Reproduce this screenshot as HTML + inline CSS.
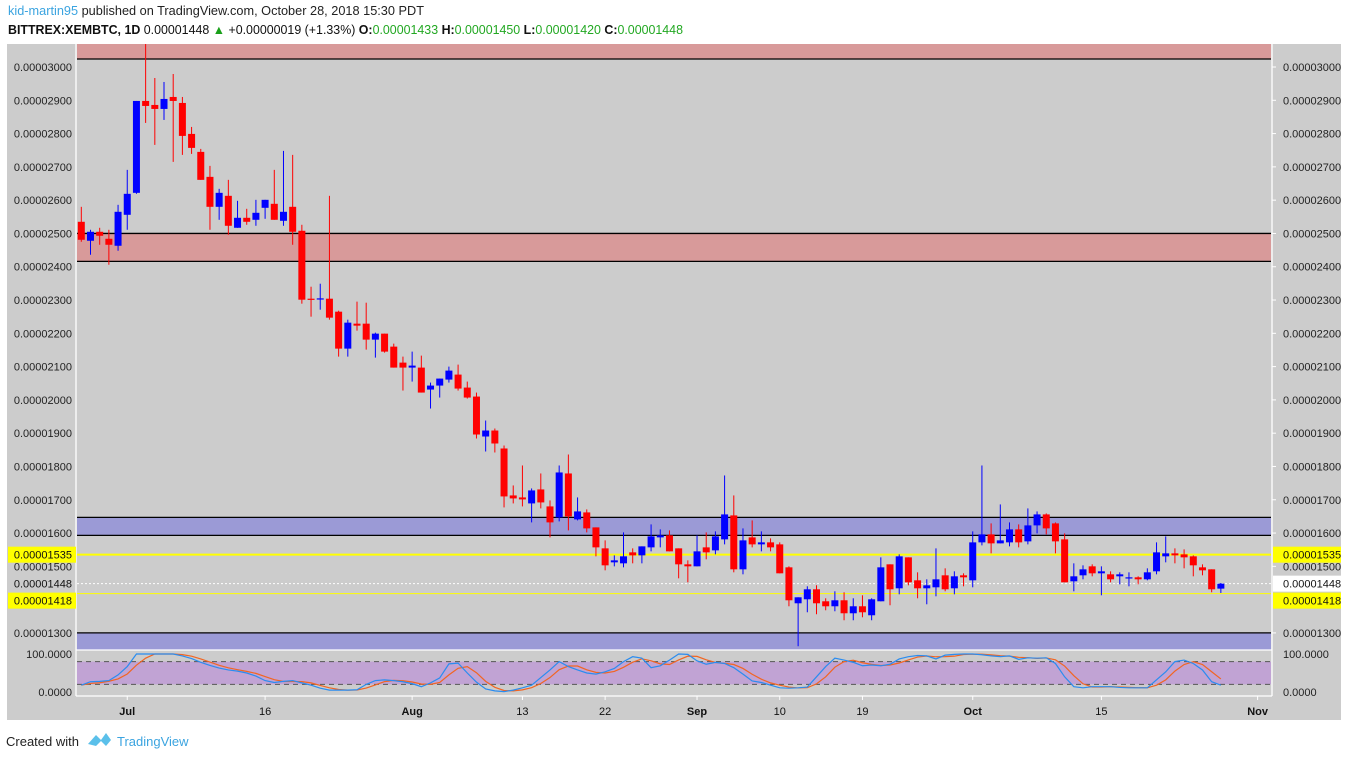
<!DOCTYPE html>
<html><head><meta charset="utf-8"><title>XEMBTC 1D chart</title>
<style>
html,body{margin:0;padding:0;background:#fff;}
svg{display:block;font-family:"Liberation Sans",Arial,sans-serif;}
</style></head>
<body>
<svg id="chart" width="1348" height="758" viewBox="0 0 1348 758" xmlns="http://www.w3.org/2000/svg">
  <text x="8" y="15" font-size="12.5" fill="#222" textLength="416" lengthAdjust="spacingAndGlyphs"><tspan fill="#3ba4e0">kid-martin95</tspan> published on TradingView.com, October 28, 2018 15:30 PDT</text>
  <text x="8" y="34" font-size="12.5" fill="#111" textLength="675" lengthAdjust="spacingAndGlyphs"><tspan font-weight="bold">BITTREX:XEMBTC, 1D</tspan> 0.00001448 <tspan fill="#1aa01a">▲</tspan> +0.00000019 (+1.33%) <tspan font-weight="bold">O:</tspan><tspan fill="#22a822">0.00001433</tspan> <tspan font-weight="bold">H:</tspan><tspan fill="#22a822">0.00001450</tspan> <tspan font-weight="bold">L:</tspan><tspan fill="#22a822">0.00001420</tspan> <tspan font-weight="bold">C:</tspan><tspan fill="#22a822">0.00001448</tspan></text>
  <rect x="7" y="44" width="1334" height="676" fill="#cccccc"/>
  <g id="zones"></g>
  <g id="candles"></g>
  <g id="stoch"></g>
  <g id="axes"></g>
  <text x="6" y="746" font-size="13" fill="#222">Created with</text>
  <g>
    <path d="M88 744 L96 735 L101 740 L106 733 L111 740 L106 746 L101 741 L96 746 Z" fill="#5bc0ea"/>
    <text x="117" y="746" font-size="13" fill="#3ba4e0">TradingView</text>
  </g>
</svg>
<script>
const opens  = [2535,2478,2505,2484,2463,2556,2622,2898,2886,2874,2910,2892,2799,2745,2670,2580,2613,2517,2547,2541,2577,2589,2538,2580,2508,2304,2304,2304,2265,2154,2229,2229,2181,2199,2160,2112,2097,2097,2031,2043,2061,2076,2037,2010,1890,1908,1854,1713,1707,1689,1731,1680,1647,1779,1641,1662,1617,1554,1512,1509,1542,1533,1557,1587,1593,1554,1506,1500,1557,1548,1581,1653,1491,1587,1566,1572,1566,1497,1389,1401,1431,1395,1380,1398,1359,1380,1353,1395,1506,1434,1527,1458,1434,1437,1473,1434,1473,1458,1572,1596,1569,1572,1611,1575,1623,1656,1629,1581,1455,1473,1500,1479,1476,1470,1464,1467,1461,1485,1530,1539,1536,1530,1497,1491,1433];
const highs  = [2580,2511,2517,2511,2586,2691,2898,3069,2967,2955,2979,2910,2820,2754,2703,2634,2661,2598,2574,2601,2601,2691,2748,2736,2526,2340,2349,2613,2268,2241,2295,2292,2202,2199,2169,2130,2145,2133,2052,2064,2100,2106,2055,2022,1938,1914,1863,1743,1803,1734,1779,1698,1803,1836,1707,1671,1617,1578,1533,1602,1554,1560,1626,1611,1608,1554,1518,1593,1602,1605,1773,1713,1614,1638,1605,1584,1572,1500,1407,1440,1443,1404,1425,1422,1404,1413,1404,1527,1506,1536,1527,1482,1461,1554,1494,1485,1479,1605,1803,1629,1686,1632,1626,1674,1665,1659,1632,1599,1509,1503,1506,1500,1485,1482,1482,1470,1494,1572,1590,1554,1551,1533,1506,1491,1450];
const lows   = [2475,2436,2466,2406,2448,2511,2619,2832,2766,2841,2715,2736,2739,2661,2511,2541,2496,2517,2526,2523,2544,2541,2523,2466,2289,2250,2271,2241,2130,2130,2208,2151,2127,2142,2097,2028,2055,2022,1974,2007,2052,2028,2004,1884,1845,1842,1677,1689,1680,1632,1674,1587,1635,1608,1638,1602,1530,1488,1500,1497,1509,1509,1545,1557,1545,1464,1452,1500,1521,1536,1566,1482,1476,1557,1545,1545,1479,1380,1260,1362,1356,1368,1365,1338,1338,1347,1338,1395,1383,1416,1443,1404,1386,1410,1425,1416,1440,1437,1563,1539,1569,1560,1557,1566,1599,1596,1539,1452,1425,1461,1470,1413,1452,1446,1440,1446,1458,1476,1512,1509,1494,1470,1473,1422,1420];
const closes = [2481,2505,2493,2466,2565,2619,2898,2883,2874,2904,2898,2793,2757,2661,2580,2622,2523,2547,2535,2562,2601,2541,2565,2505,2301,2301,2305,2247,2154,2232,2223,2181,2199,2145,2097,2097,2103,2022,2043,2064,2088,2034,2007,1896,1908,1869,1710,1704,1701,1728,1692,1632,1782,1650,1665,1614,1557,1503,1518,1530,1533,1560,1590,1593,1545,1506,1500,1545,1542,1590,1656,1491,1578,1566,1572,1557,1479,1398,1407,1431,1389,1380,1398,1359,1380,1362,1401,1497,1431,1530,1452,1434,1443,1461,1431,1470,1467,1572,1596,1569,1578,1611,1572,1623,1656,1614,1575,1452,1470,1491,1479,1485,1461,1476,1467,1461,1482,1542,1539,1533,1527,1503,1488,1431,1448];
const stochK = [18,27,28,30,45,67,100,100,100,100,100,95,88,78,70,63,58,55,50,42,30,25,28,30,24,18,10,5,5,5,6,20,30,32,30,27,22,14,24,37,74,76,50,26,8,3,1,5,11,18,38,58,80,67,58,50,47,53,62,80,93,89,64,69,84,100,99,82,73,78,75,64,47,29,25,18,11,10,11,13,40,67,89,84,78,69,71,69,73,87,93,96,95,87,97,99,100,100,98,95,93,95,86,90,89,90,75,40,14,11,14,14,14,12,11,11,11,32,53,80,84,75,58,27,18];
const priceTicks = [3000,2900,2800,2700,2600,2500,2400,2300,2200,2100,2000,1900,1800,1700,1600,1500,1300];
const dateLabels = ["Jul","16","Aug","13","22","Sep","10","19","Oct","15","Nov"];
const dateIndex  = [5,20,36,48,57,67,76,85,97,111,128];
const dateBold   = [true,false,true,false,false,true,false,false,true,false,true];
const zoneTops   = [3070,2500,1647,1300];
const zoneBottoms= [3024,2416,1593,1240];
const zoneKinds  = ["resistance","resistance","support","support"];

const NS="http://www.w3.org/2000/svg";
const PLOT_L=77, PLOT_R=1271, PANE_T=44, PANE_B=650;
function yP(p){return 67+(3000-p)/3.004;}
function xI(i){return 81.3+i*9.19;}
function yS(v){return 692-v*0.38;}
function mk(tag,attrs,parent){const e=document.createElementNS(NS,tag);for(const k in attrs)e.setAttribute(k,attrs[k]);parent.appendChild(e);return e;}
const zones=document.getElementById('zones'), cg=document.getElementById('candles'), sg=document.getElementById('stoch'), ag=document.getElementById('axes');

for(let z=0;z<zoneTops.length;z++){
  const t=Math.max(PANE_T,yP(zoneTops[z])), b=Math.min(PANE_B,yP(zoneBottoms[z]));
  const r=mk('rect',{x:PLOT_L,y:t,width:PLOT_R-PLOT_L,height:b-t,fill:zoneKinds[z]==="resistance"?"#d89a9a":"#9b9ad6"},zones);
  
  
  [zoneTops[z],zoneBottoms[z]].forEach(p=>{const y=yP(p); if(y>PANE_T+1&&y<PANE_B-1){
    const l=mk('line',{x1:PLOT_L,x2:PLOT_R,y1:y,y2:y,stroke:"#000","stroke-width":1.3},zones);
    
    
  }});
}
const yl=mk('line',{x1:PLOT_L,x2:PLOT_R,y1:yP(1535),y2:yP(1535),stroke:"#ffff00","stroke-width":2},zones);


const yl2=mk('line',{x1:PLOT_L,x2:PLOT_R,y1:yP(1418),y2:yP(1418),stroke:"#ffff00","stroke-width":1},zones);


const cl=mk('line',{x1:PLOT_L,x2:PLOT_R,y1:yP(closes[closes.length-1]),y2:yP(closes[closes.length-1]),stroke:"#fff","stroke-width":1,"stroke-dasharray":"2,2"},zones);



for(let i=0;i<opens.length;i++){
  const up=closes[i]>=opens[i], col=up?"#0000ff":"#ff0000", x=xI(i);
  const g=mk('g',{},cg);
  
  
  mk('line',{x1:x,x2:x,y1:Math.max(PANE_T,yP(highs[i])),y2:yP(lows[i]),stroke:col,"stroke-width":1},g);
  const t=yP(Math.max(opens[i],closes[i])), b=yP(Math.min(opens[i],closes[i]));
  mk('rect',{x:x-3.5,y:t,width:7,height:Math.max(1.2,b-t),fill:col},g);
}

const stochD=stochK.map((v,i)=>{const a=stochK.slice(Math.max(0,i-2),i+1);return a.reduce((s,q)=>s+q,0)/a.length;});
const band=mk('rect',{x:PLOT_L,y:yS(80),width:PLOT_R-PLOT_L,height:yS(20)-yS(80),fill:"#c1a3d4"},sg);


[80,20].forEach(v=>{const l=mk('line',{x1:PLOT_L,x2:PLOT_R,y1:yS(v),y2:yS(v),stroke:"#555","stroke-dasharray":"5,4"},sg);
  
  });
const dPath=mk('polyline',{points:stochD.map((v,i)=>xI(i)+","+yS(v)).join(" "),fill:"none",stroke:"#f26522","stroke-width":1.2},sg);


const kPath=mk('polyline',{points:stochK.map((v,i)=>xI(i)+","+yS(v)).join(" "),fill:"none",stroke:"#2a8cf0","stroke-width":1.2},sg);



[[76,44,76,696],[1272,44,1272,696],[76,650,1272,650],[76,696,1272,696]].forEach(s=>{
  const l=mk('line',{x1:s[0],y1:s[1],x2:s[2],y2:s[3],stroke:"#fff","stroke-width":1.3},ag);
  
  
});
function fmt(p){return "0.0000"+String(p).padStart(4,"0");}
priceTicks.forEach(p=>{
  const y=yP(p);
  const l=mk('text',{x:72,y:y+4,"font-size":11,fill:"#222","text-anchor":"end"},ag); l.textContent=fmt(p);
  
  
  const r=mk('text',{x:1283,y:y+4,"font-size":11,fill:"#222"},ag); r.textContent=fmt(p);
  
  
  mk('line',{x1:1272,x2:1276,y1:y,y2:y,stroke:"#fff"},ag);
});
function boxLabel(p,bg,name,offset,leftBox){
  const y=yP(p)+offset;
  [[8,76,72,"end",leftBox],[1273,1341,1283,"start",true]].forEach(s=>{
    if(s[4]){
      const r=mk('rect',{x:s[0],y:y-8,width:s[1]-s[0],height:16,fill:bg},ag);
      
      
    }
    const t=mk('text',{x:s[2],y:y+4,"font-size":11,fill:"#111","text-anchor":s[3]},ag); t.textContent=fmt(p);
    
    
  });
}
boxLabel(1535,"#ffff00","level-1535",0,true);
boxLabel(1418,"#ffff00","level-1418",7,true);
boxLabel(closes[closes.length-1],"#ffffff","last-price",0,false);
[[100,"100.0000"],[0,"0.0000"]].forEach(s=>{
  const y=yS(s[0]);
  const l=mk('text',{x:72,y:y+4,"font-size":11,fill:"#222","text-anchor":"end"},ag); l.textContent=s[1];
  
  
  const r=mk('text',{x:1283,y:y+4,"font-size":11,fill:"#222"},ag); r.textContent=s[1];
  
  
});
dateLabels.forEach((d,k)=>{
  const x=xI(dateIndex[k]);
  mk('line',{x1:x,x2:x,y1:696,y2:700,stroke:"#fff"},ag);
  const t=mk('text',{x:x,y:715,"font-size":11,fill:"#111","text-anchor":"middle","font-weight":dateBold[k]?"bold":"normal"},ag); t.textContent=d;
  
  
});
</script>
</body></html>
